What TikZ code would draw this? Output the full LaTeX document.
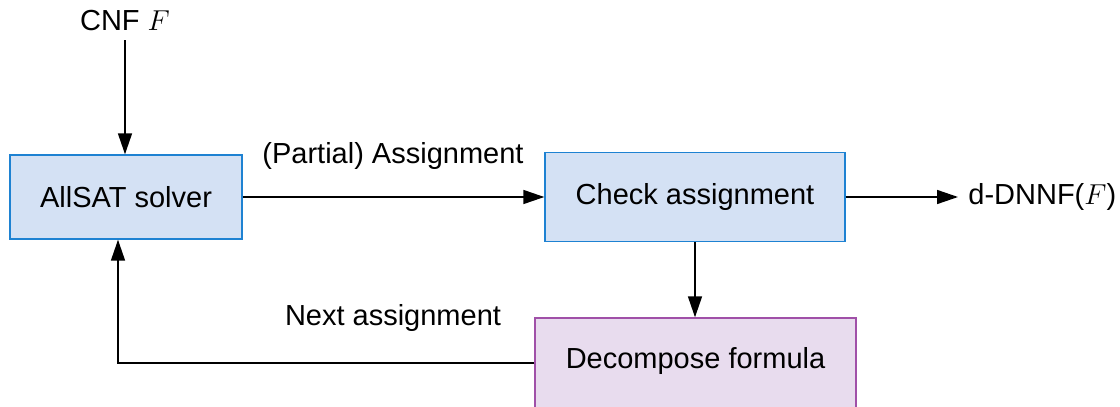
\documentclass[tikz,border=0pt]{standalone}
\usepackage{fontspec}
\setmainfont{Liberation Sans}
\usetikzlibrary{arrows.meta}
\definecolor{bluefill}{HTML}{D4E1F4}
\definecolor{bluedraw}{HTML}{1E82D2}
\definecolor{purpfill}{HTML}{E8DCEE}
\definecolor{purpdraw}{HTML}{A050A8}
\begin{document}
\begin{tikzpicture}[x=0.5pt,y=-0.5pt,
  every node/.style={font=\fontsize{14.5}{17}\selectfont, inner sep=0pt},
  bluebox/.style={draw=bluedraw, fill=bluefill, line width=0.7pt},
  purpbox/.style={draw=purpdraw, fill=purpfill, line width=0.7pt},
  conn/.style={line width=0.75pt, -{Triangle[length=10.5pt,width=7pt]}},
  lbl/.style={anchor=center}]
\useasboundingbox (0,0) rectangle (1120,407);
\begin{scope}
\clip (0,0) rectangle (1120,407);
\node[bluebox, minimum width=116pt, minimum height=42pt] (solver) at (126,197) {AllSAT solver};
\node[bluebox, minimum width=150pt, minimum height=44.5pt] (check) at (695,197) {Check assignment};
\node[purpbox, minimum width=160.5pt, minimum height=46pt] (decomp) at (695.5,364) {};
\end{scope}
\node (decomptxt) at (695.5,361) {Decompose formula};
\node[lbl] (cnf) at (125,21) {CNF $F$};
\node[anchor=west] (out) at (968,197) {d-DNNF($F$)};
\node[lbl] (plbl) at (393,156) {(Partial) Assignment};
\node[lbl] (nlbl) at (393,318) {Next assignment};
\coordinate (corner) at (118,363);
\draw[conn] (cnf.south |- 0,40) -- (solver.north -| cnf.south);
\draw[conn] (solver.east) -- (check.west);
\draw[conn] (check.east) -- ([xshift=-5pt]out.west);
\draw[conn] (check.south) -- (decomp.north -| check.south);
\draw[conn] (decomp.west |- corner) -- (corner) -- (solver.south -| corner);
\end{tikzpicture}
\end{document}
